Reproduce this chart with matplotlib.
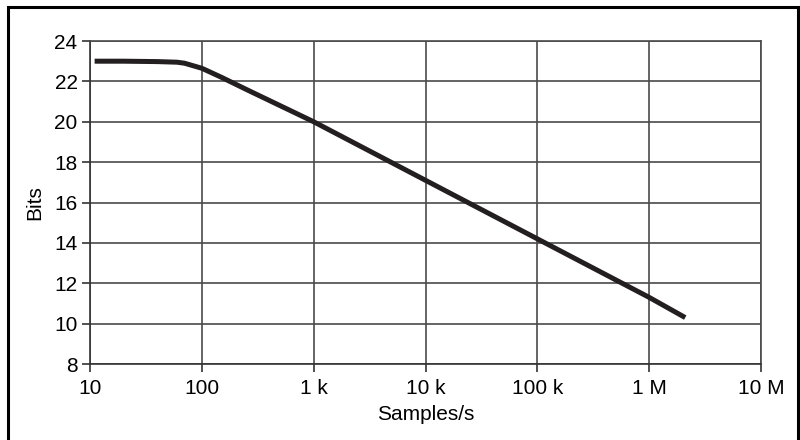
import matplotlib.pyplot as plt
from matplotlib.patches import Rectangle

plt.rcParams['font.family'] = ['Liberation Sans', 'DejaVu Sans']

rate = [11, 20, 40, 60, 70, 100, 150, 250, 1e3, 1e4, 1e5, 1e6, 2.1e6]
bits = [23.0, 23.0, 22.98, 22.95, 22.9, 22.65, 22.2, 21.6, 20.0, 17.1, 14.2, 11.3, 10.3]

xticks = [10, 100, 1e3, 1e4, 1e5, 1e6, 1e7]
xlabels = ['10', '100', '1 k', '10 k', '100 k', '1 M', '10 M']
yticks = [8, 10, 12, 14, 16, 18, 20, 22, 24]

fig = plt.figure(figsize=(8, 4.4), dpi=100)
ax = fig.add_axes([0.1125, 0.1727, 0.8388, 0.7341])

ax.plot(rate, bits, color='#231f20', lw=3.6, solid_capstyle='butt', zorder=3)

ax.set_xscale('log')
ax.set_xlim(10, 1e7)
ax.set_ylim(8, 24)
ax.set_xticks(xticks)
ax.set_xticklabels(xlabels)
ax.minorticks_off()
ax.set_yticks(yticks)
ax.grid(True, color='#4a4a4a', lw=1.2)
ax.tick_params(direction='out', length=6, width=1.2, color='#333333', labelsize=15)
ax.tick_params(axis='x', pad=5)
ax.tick_params(axis='y', pad=3)

for s in ['top', 'right']:
    ax.spines[s].set_color('#4a4a4a')
    ax.spines[s].set_linewidth(1.2)
for s in ['left', 'bottom']:
    ax.spines[s].set_color('#333333')
    ax.spines[s].set_linewidth(1.2)

ax.set_xlabel('Samples/s', fontsize=15, labelpad=5)
ax.set_ylabel('Bits', fontsize=15, labelpad=7)

fig.patches.append(Rectangle((8/800, -0.02), 790/800, 1.02 - 7/440, transform=fig.transFigure,
                             fill=False, edgecolor='black', lw=2.2))

fig.savefig('out.png', dpi=100)
